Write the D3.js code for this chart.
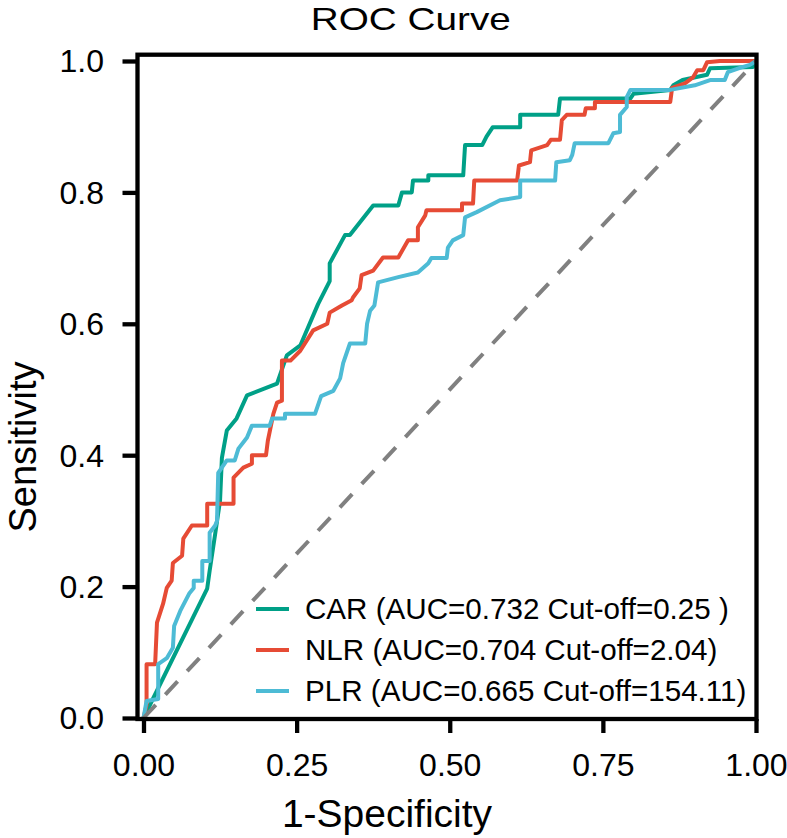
<!DOCTYPE html>
<html>
<head>
<meta charset="utf-8">
<script src="https://cdn.jsdelivr.net/npm/d3@7.9.0/dist/d3.min.js"></script>
<style>
  html, body { margin: 0; padding: 0; background: #fff; }
  svg { display: block; font-family: 'Liberation Sans', Arial, sans-serif; }
</style>
</head>
<body>
<svg id="chart" width="787" height="838"></svg>
<script>
// ROC points: [1-specificity, sensitivity]
const carRoc = [
  [0, 0], [0.104, 0.197], [0.108, 0.224], [0.117, 0.28], [0.125, 0.331],
  [0.128, 0.396], [0.136, 0.4375], [0.152, 0.456], [0.169, 0.491], [0.218, 0.509],
  [0.234, 0.552], [0.256, 0.567], [0.285, 0.63], [0.304, 0.665], [0.304, 0.692],
  [0.329, 0.735], [0.337, 0.735], [0.375, 0.78], [0.416, 0.78], [0.422, 0.8],
  [0.438, 0.8], [0.44, 0.818], [0.465, 0.818], [0.465, 0.826], [0.522, 0.826],
  [0.525, 0.872], [0.553, 0.872], [0.56, 0.885], [0.57, 0.899], [0.615, 0.899],
  [0.615, 0.918], [0.677, 0.918], [0.68, 0.943], [0.795, 0.943], [0.8, 0.95],
  [0.86, 0.956], [0.865, 0.963], [0.88, 0.971], [0.92, 0.979], [0.925, 0.989],
  [0.995, 0.991], [0.995, 1], [1, 1]
];

const nlrRoc = [
  [0, 0], [0.005, 0.02], [0.005, 0.082], [0.019, 0.082], [0.022, 0.145],
  [0.032, 0.174], [0.038, 0.198], [0.046, 0.209], [0.048, 0.236], [0.063, 0.247],
  [0.065, 0.273], [0.079, 0.293], [0.104, 0.293], [0.104, 0.326], [0.147, 0.326],
  [0.147, 0.366], [0.163, 0.381], [0.177, 0.387], [0.177, 0.4], [0.2, 0.4],
  [0.203, 0.422], [0.212, 0.463], [0.218, 0.48], [0.226, 0.483], [0.226, 0.544],
  [0.24, 0.544], [0.256, 0.559], [0.277, 0.59], [0.3, 0.6], [0.304, 0.617],
  [0.324, 0.628], [0.34, 0.636], [0.342, 0.64], [0.353, 0.654], [0.356, 0.674],
  [0.375, 0.681], [0.391, 0.701], [0.416, 0.701], [0.432, 0.727], [0.448, 0.727],
  [0.448, 0.747], [0.46, 0.765], [0.462, 0.773], [0.52, 0.773], [0.52, 0.783],
  [0.538, 0.783], [0.54, 0.818], [0.61, 0.818], [0.613, 0.841], [0.631, 0.846],
  [0.633, 0.864], [0.659, 0.872], [0.665, 0.88], [0.68, 0.88], [0.683, 0.91],
  [0.691, 0.918], [0.72, 0.918], [0.722, 0.928], [0.737, 0.928], [0.737, 0.9375],
  [0.86, 0.9375], [0.863, 0.959], [0.884, 0.966], [0.897, 0.975], [0.904, 0.986],
  [0.914, 0.986], [0.92, 0.998], [0.941, 1], [1, 1]
];

const plrRoc = [
  [0, 0], [0.005, 0.026], [0.024, 0.029], [0.024, 0.082], [0.038, 0.091],
  [0.048, 0.107], [0.05, 0.14], [0.06, 0.163], [0.075, 0.19], [0.082, 0.198],
  [0.082, 0.209], [0.096, 0.209], [0.096, 0.239], [0.108, 0.239], [0.108, 0.282],
  [0.117, 0.293], [0.12, 0.3], [0.122, 0.373], [0.136, 0.392], [0.149, 0.392],
  [0.155, 0.41], [0.169, 0.427], [0.177, 0.445], [0.206, 0.445], [0.21, 0.456],
  [0.231, 0.456], [0.231, 0.463], [0.28, 0.463], [0.29, 0.49], [0.31, 0.498],
  [0.321, 0.517], [0.326, 0.54], [0.337, 0.57], [0.362, 0.57], [0.365, 0.6],
  [0.37, 0.62], [0.377, 0.628], [0.383, 0.663], [0.416, 0.671], [0.448, 0.678],
  [0.465, 0.692], [0.47, 0.7], [0.495, 0.7], [0.497, 0.716], [0.505, 0.727],
  [0.522, 0.735], [0.525, 0.762], [0.544, 0.77], [0.582, 0.788], [0.615, 0.793],
  [0.615, 0.818], [0.672, 0.818], [0.674, 0.846], [0.696, 0.849], [0.7, 0.857],
  [0.704, 0.875], [0.759, 0.875], [0.767, 0.89], [0.778, 0.892], [0.778, 0.918],
  [0.789, 0.93], [0.789, 0.945], [0.795, 0.956], [0.86, 0.956], [0.9, 0.963],
  [0.925, 0.971], [0.949, 0.971], [0.954, 0.983], [0.975, 0.99], [0.99, 0.994],
  [1, 1]
];

const seriesNames = ['CAR', 'NLR', 'PLR'];
const aucValues = ['0.732', '0.704', '0.665'];
const cutoffValues = ['0.25 ', '2.04', '154.11'];
const seriesColors = ['#00A087', '#E64B35', '#4DBBD5'];
const seriesPoints = [carRoc, nlrRoc, plrRoc];

const xTicks = [0, 0.25, 0.5, 0.75, 1];
const yTicks = [0, 0.2, 0.4, 0.6, 0.8, 1];
const refLine = [[0, 0], [1, 1]];

const svg = d3.select('#chart');

const x = d3.scaleLinear().domain([0, 1]).range([143.5, 756]);
const y = d3.scaleLinear().domain([0, 1]).range([718, 61]);

const panel = { left: 137.5, top: 54.7, right: 756.5, bottom: 719 };

// axes
const xAxis = svg.append('g')
  .attr('transform', `translate(0,${panel.bottom})`)
  .call(d3.axisBottom(x).tickValues(xTicks).tickFormat(d3.format('.2f')).tickSize(14));

const yAxis = svg.append('g')
  .attr('transform', `translate(${panel.left},0)`)
  .call(d3.axisLeft(y).tickValues(yTicks).tickFormat(d3.format('.1f')).tickSize(15).tickPadding(18.5));

[xAxis, yAxis].forEach((g) => {
  g.select('.domain').remove();
  g.selectAll('.tick line').attr('stroke', '#000').attr('stroke-width', 4.3);
  g.selectAll('.tick text')
    .attr('fill', '#000')
    .style('font-size', '32px')
    .style('font-family', "'Liberation Sans', Arial, sans-serif");
});
xAxis.selectAll('.tick text').attr('y', 57).attr('dy', null);
yAxis.selectAll('.tick text').attr('dy', '0.34em');

// curves
const line = d3.line().x((d) => x(d[0])).y((d) => y(d[1]));

seriesPoints.forEach((pts, i) => {
  svg.append('path')
    .datum(pts)
    .attr('d', line)
    .attr('fill', 'none')
    .attr('stroke', seriesColors[i])
    .attr('stroke-width', 4)
    .attr('stroke-linejoin', 'round');
});

svg.append('path')
  .datum(refLine)
  .attr('d', line)
  .attr('fill', 'none')
  .attr('stroke', '#808080')
  .attr('stroke-width', 4)
  .attr('stroke-dasharray', '18 14');

// panel border
svg.append('rect')
  .attr('x', panel.left)
  .attr('y', panel.top)
  .attr('width', panel.right - panel.left)
  .attr('height', panel.bottom - panel.top)
  .attr('fill', 'none')
  .attr('stroke', '#000')
  .attr('stroke-width', 4.3);

// legend
const legendRows = [609, 650, 691];
seriesNames.forEach((name, i) => {
  svg.append('line')
    .attr('x1', 256).attr('x2', 289)
    .attr('y1', legendRows[i]).attr('y2', legendRows[i])
    .attr('stroke', seriesColors[i])
    .attr('stroke-width', 4);
  svg.append('text')
    .attr('x', 305)
    .attr('y', legendRows[i] + 10)
    .style('font-size', '29.6px')
    .style('white-space', 'pre')
    .text(`${name} (AUC=${aucValues[i]} Cut-off=${cutoffValues[i]})`);
});

// titles
svg.append('text')
  .attr('x', 410.8).attr('y', 30)
  .attr('text-anchor', 'middle')
  .attr('textLength', 200)
  .attr('lengthAdjust', 'spacingAndGlyphs')
  .style('font-size', '32px')
  .text('ROC Curve');

svg.append('text')
  .attr('x', 387).attr('y', 827)
  .attr('text-anchor', 'middle')
  .style('font-size', '39px')
  .text('1-Specificity');

svg.append('text')
  .attr('transform', 'translate(36,447) rotate(-90)')
  .attr('text-anchor', 'middle')
  .style('font-size', '38px')
  .text('Sensitivity');
</script>
</body>
</html>
